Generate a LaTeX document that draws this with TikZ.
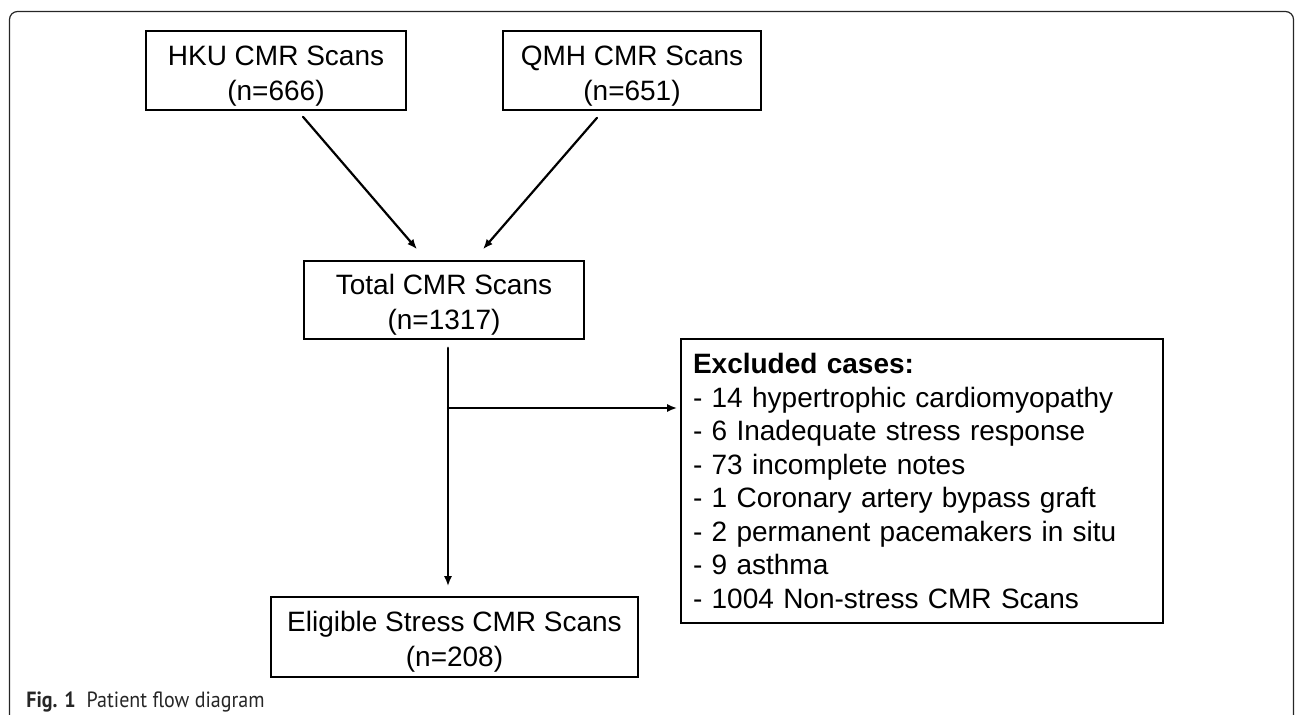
\documentclass[tikz,border=0pt]{standalone}
\usepackage{fontspec}
\setmainfont{Liberation Sans}
\newfontfamily\captionfont[FakeStretch=0.91]{PT Sans}
\usepackage{tikz}
\usetikzlibrary{arrows.meta, positioning, shapes, calc}
\tikzset{>={Latex[length=5pt, width=4pt]}}
\tikzset{
    box/.style={draw, line width=0.8pt, align=center, inner sep=0pt, text height=32.5pt, font=\fontsize{14}{17.5}\selectfont},
    flow/.style={->, line width=1.1pt, line cap=round, line join=round},
    frame/.style={draw=black!85, line width=0.6pt, rounded corners=4pt}
}

\begin{document}
\begin{tikzpicture}[x=0.5pt, y=-0.5pt]
    \useasboundingbox (0,0) rectangle (1295,714);
    \clip (0,0) rectangle (1295,714);
    \draw [frame] (9.5,11.5) rectangle (1293.5,760);

    \node [box, minimum width=130pt, minimum height=39.5pt] (hku) at (276,70.5) {HKU CMR Scans\\(n=666)};
    \node [box, minimum width=129pt, minimum height=39.5pt] (qmh) at (632,70.5) {QMH CMR Scans\\(n=651)};
    \node [box, minimum width=140pt, minimum height=39pt] (total) at (444,300) {Total CMR Scans\\(n=1317)};
    \node [box, minimum width=183.5pt, minimum height=40pt] (eligible) at (454.5,637) {Eligible Stress CMR Scans\\(n=208)};
    \node [
        draw,
        line width=0.8pt,
        text width=229pt,
        inner xsep=6pt,
        inner ysep=0pt,
        minimum height=142pt,
        align=left,
        font=\fontsize{14}{16.75}\selectfont
    ] (excluded) at (922,481) {
        \textbf{Excluded cases:}\\
        - 14 hypertrophic cardiomyopathy\\
        - 6 Inadequate stress response\\
        - 73 incomplete notes\\
        - 1 Coronary artery bypass graft\\
        - 2 permanent pacemakers in situ\\
        - 9 asthma\\
        - 1004 Non-stress CMR Scans
    };
    \coordinate (split) at (448,408);

    \draw [flow] ($(hku.south)+(27,6)$) -- ($(total.north)+(-27,-11)$);
    \draw [flow] ($(qmh.south)+(-35,7)$) -- ($(total.north)+(39,-11)$);
    \draw [flow, shorten <=4pt, shorten >=5pt] (total.south -| split) -- (eligible.north -| split);
    \draw [flow, shorten >=1.5pt] (split) -- (excluded.west |- split);

    \node [anchor=base west, inner sep=0pt, font=\captionfont\fontsize{11}{13}\selectfont, text=black!85] (caption) at (26,707) {\textbf{Fig. 1}\enspace Patient flow diagram};
\end{tikzpicture}
\end{document}
